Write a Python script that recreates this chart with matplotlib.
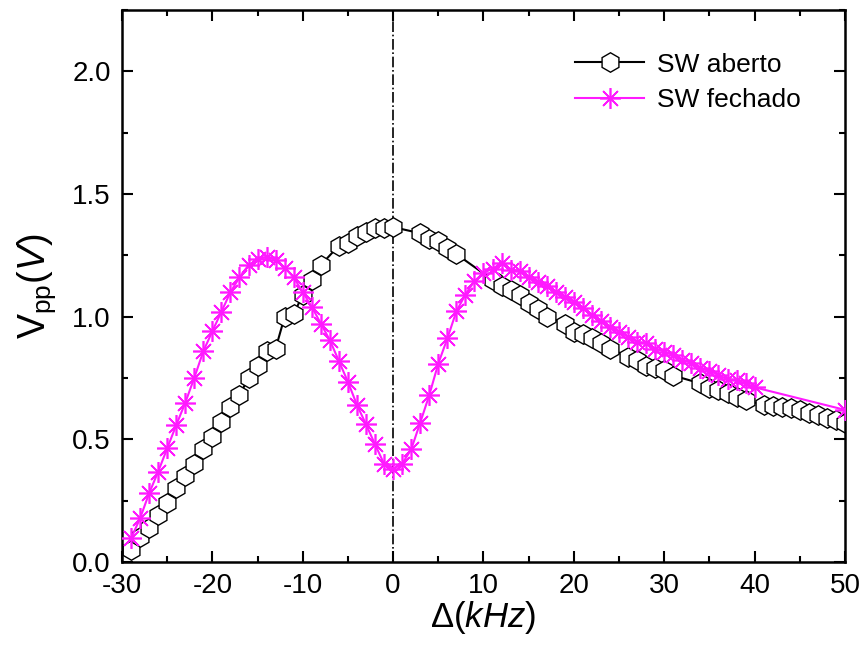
import numpy as np
import matplotlib
matplotlib.use("Agg")
import matplotlib.pyplot as plt
from matplotlib.ticker import MultipleLocator

plt.rcParams["font.family"] = ["Liberation Sans", "DejaVu Sans"]
plt.rcParams["mathtext.fontset"] = "custom"
plt.rcParams["mathtext.rm"] = "Liberation Sans"
plt.rcParams["mathtext.it"] = "Liberation Sans:italic"
plt.rcParams["axes.unicode_minus"] = False

# SW aberto (open switch)
aberto_x = [-29, -28, -27, -26, -25, -24, -23, -22, -21, -20, -19, -18, -17, -16, -15,
            -14, -13, -12, -11, -10, -9, -8, -6, -5, -4, -3, -2, -1, 0,
            3, 4, 5, 6, 7, 11, 12, 13, 14, 15, 16, 17, 19, 20, 21, 22, 23, 24,
            26, 27, 28, 29, 30, 31, 34, 35, 36, 37, 38, 39,
            41, 42, 43, 44, 45, 46, 47, 48, 49, 50]
aberto_y = [0.05, 0.10, 0.14, 0.19, 0.24, 0.30, 0.35, 0.40, 0.46, 0.51, 0.57, 0.63, 0.68, 0.75, 0.80,
            0.86, 0.87, 1.00, 1.01, 1.09, 1.15, 1.21, 1.29, 1.30, 1.33, 1.345, 1.36, 1.36, 1.365,
            1.34, 1.315, 1.31, 1.28, 1.255, 1.15, 1.124, 1.108, 1.088, 1.054, 1.033, 1.00, 0.972, 0.938, 0.928, 0.911, 0.891, 0.87,
            0.836, 0.823, 0.80, 0.789, 0.782, 0.76, 0.728, 0.708, 0.70, 0.687, 0.673, 0.66,
            0.64, 0.635, 0.633, 0.626, 0.62, 0.606, 0.60, 0.586, 0.58, 0.565]

# SW fechado (closed switch)
fechado_x = [-29, -28, -27, -26, -25, -24, -23, -22, -21, -20, -19, -18, -17, -16, -15,
             -14, -13, -12, -11, -10, -9, -8, -7, -6, -5, -4, -3, -2, -1, 0,
             1, 2, 3, 4, 5, 6, 7, 8, 9, 10, 11, 12, 13, 14, 15, 16, 17, 18, 19, 20,
             21, 22, 23, 24, 25, 26, 27, 28, 29, 30, 31, 32, 33, 34, 35, 36, 37, 38, 39, 40, 50]
fechado_y = [0.096, 0.178, 0.28, 0.368, 0.463, 0.558, 0.649, 0.751, 0.859, 0.941, 1.02, 1.10, 1.16, 1.21, 1.234,
             1.244, 1.23, 1.20, 1.16, 1.10, 1.04, 0.972, 0.904, 0.819, 0.734, 0.64, 0.561, 0.479, 0.40, 0.378,
             0.40, 0.459, 0.568, 0.68, 0.809, 0.911, 1.022, 1.09, 1.145, 1.178, 1.196, 1.217, 1.192, 1.187, 1.16, 1.142, 1.124, 1.10, 1.08, 1.06,
             1.036, 1.006, 0.983, 0.958, 0.938, 0.918, 0.897, 0.891, 0.87, 0.857, 0.843, 0.823, 0.812, 0.789, 0.779, 0.762, 0.744, 0.741, 0.728, 0.712, 0.62]

fig = plt.figure(figsize=(8.61, 6.57), dpi=100)
ax = fig.add_axes([0.1417, 0.1446, 0.8397, 0.8402])

ax.axvline(0, color="black", lw=1.2, ls="-.", zorder=1)
ax.plot(aberto_x, aberto_y, color="black", lw=1.5, marker="h", markersize=14,
        markerfacecolor="white", markeredgecolor="black", markeredgewidth=1.0,
        label="SW aberto", zorder=2)
ax.plot(fechado_x, fechado_y, color="#ff1aff", lw=1.5, marker=(8, 2, 0), markersize=15,
        markeredgecolor="#ff1aff", markeredgewidth=1.2,
        label="SW fechado", zorder=3)

ax.set_xlim(-30, 50)
ax.set_ylim(0, 2.25)
ax.xaxis.set_major_locator(MultipleLocator(10))
ax.xaxis.set_minor_locator(MultipleLocator(5))
ax.yaxis.set_minor_locator(MultipleLocator(0.25))
ax.set_yticks([0, 0.5, 1.0, 1.5, 2.0])
ax.set_yticklabels(["0.0", "0.5", "1.0", "1.5", "2.0"])
ax.tick_params(which="both", direction="in", top=True, right=True, width=1.5)
ax.tick_params(which="major", length=8, labelsize=20, pad=8)
ax.tick_params(which="minor", length=4)
for s in ax.spines.values():
    s.set_linewidth(1.8)

ax.set_xlabel(r"$\Delta(\mathit{kHz})$", fontsize=25, labelpad=0)
ax.set_ylabel(r"V$_{\mathrm{pp}}$($\mathit{V}$)", fontsize=27, labelpad=10)

ax.legend(loc="upper right", frameon=False, fontsize=19, handlelength=2.6,
          handletextpad=0.5, labelspacing=0.45,
          bbox_to_anchor=(0.972, 0.966))

fig.savefig("out.png", dpi=100)
